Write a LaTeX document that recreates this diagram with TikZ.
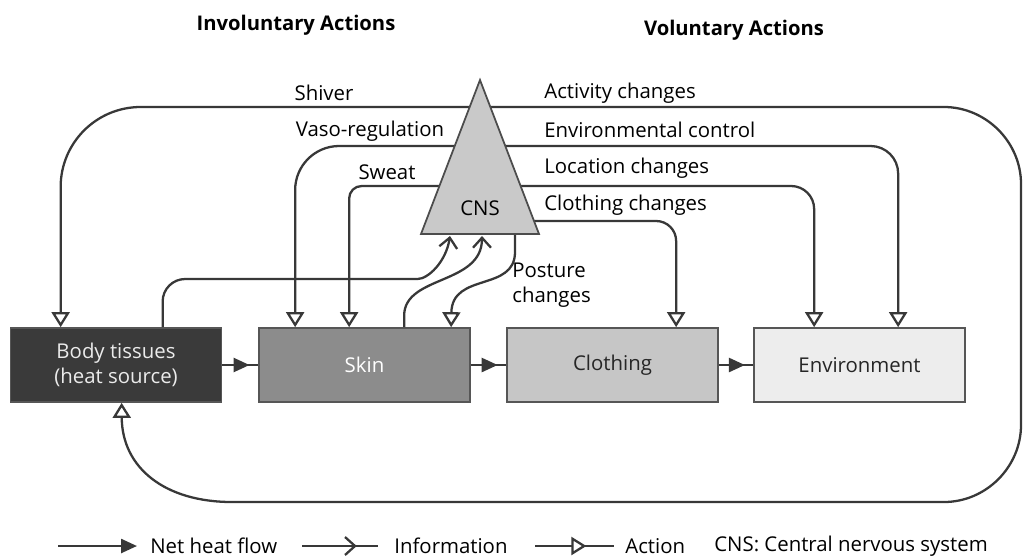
\documentclass[tikz,border=0pt]{standalone}
\usepackage{fontspec}
\setmainfont{Open Sans}
\usetikzlibrary{arrows.meta,calc,decorations.markings}
\definecolor{linegray}{HTML}{383838}
\definecolor{bodyfill}{HTML}{3A3A3A}
\definecolor{skinfill}{HTML}{8C8C8C}
\definecolor{clothfill}{HTML}{C6C6C6}
\definecolor{envfill}{HTML}{EDEDED}
\definecolor{cnsfill}{HTML}{C9C9C9}
\tikzset{
  box/.style={draw=linegray!85, line width=1pt, minimum width=4.22cm, minimum height=1.48cm,
    align=center, font=\fontsize{11.6}{14}\selectfont},
  action/.style={draw=linegray, line width=1.3pt, -{Triangle[fill=white, length=0.3cm, width=0.36cm]}},
  info/.style={draw=linegray, line width=1.3pt, -{Straight Barb[length=0.2cm, width=0.36cm]}},
  heat/.style={draw=linegray, line width=1.4pt, postaction={decorate},
    decoration={markings, mark=at position 0.76 with {\arrow{Triangle[length=0.32cm, width=0.28cm]}}}},
  lbl/.style={font=\fontsize{11.6}{14}\selectfont, inner sep=0pt},
  title/.style={font=\fontsize{11.5}{14}\selectfont\bfseries, inner sep=0pt},
}
\begin{document}
\begin{tikzpicture}[x=0.02cm, y=-0.02cm]
  \useasboundingbox (0,0) rectangle (1024,559);
  % boxes
  \node[box, fill=bodyfill, text=white!92!black] (body) at (116,365) {Body tissues\\(heat source)};
  \node[box, fill=skinfill, text=white] (skin) at (364.5,365) {Skin};
  \node[box, fill=clothfill, text=black!85] (cloth) at (612.5,365) {Clothing};
  \node[box, fill=envfill, text=black!85] (env) at (859.5,365) {Environment};
  \coordinate (apex) at (480,80);
  % heat flow
  \draw[heat] (body) -- (skin);
  \draw[heat] (skin) -- (cloth);
  \draw[heat] (cloth) -- (env);
  % involuntary actions
  \draw[action, rounded corners=1.6cm] ($(apex)+(0,27)$) -| ($(body.north west)+(51,0)$);
  \draw[action, rounded corners=0.88cm] ($(apex)+(0,66)$) -| ($(skin.north west)+(37,0)$);
  \draw[action, rounded corners=0.25cm] ($(apex)+(0,106)$) -| ($(skin.north west)+(91,0)$);
  % voluntary actions
  \draw[action] ($(apex)+(0,27)$) -- (944,107) .. controls (986,107) and (1021,142) .. (1021,184)
    -- (1021,425) .. controls (1021,467) and (986,502) .. (944,502) -- (232,502)
    .. controls (165,502) and (122,468) .. ($(body.south west)+(112,0)$);
  \draw[action, rounded corners=0.55cm] ($(apex)+(0,66)$) -| ($(env.north west)+(145,0)$);
  \draw[action, rounded corners=0.46cm] ($(apex)+(0,106)$) -| ($(env.north west)+(61,0)$);
  \draw[action, rounded corners=0.4cm] ($(apex)+(0,141)$) -| ($(cloth.north west)+(170,0)$);
  \draw[action] ($(apex)+(35,154)$) -- ++(0,18) .. controls (515,292) and (452,272) .. ($(skin.north west)+(193,0)$);
  % information
  \draw[info, rounded corners=0.45cm] ($(body.north west)+(153,0)$) |- (395,279)
    [sharp corners] .. controls (428,279) and (446,262) .. ($(apex)+(-30,156)$);
  \draw[info] ($(skin.north west)+(146,0)$) -- ++(0,-12) .. controls (405,275) and (482,285) .. ($(apex)+(2,156)$);
  % CNS
  \filldraw[fill=cnsfill, draw=linegray!90, line width=1pt] (apex) -- (539,234) -- (421,234) -- cycle;
  \node[lbl] (cns) at (480,208) {CNS};
  % labels
  \node[title] (invol) at (296,25) {Involuntary Actions};
  \node[title] (vol) at (734,30) {Voluntary Actions};
  \node[lbl] (shiver) at (324,93) {Shiver};
  \node[lbl] (vaso) at (370,131) {Vaso-regulation};
  \node[lbl] (sweat) at (387,172) {Sweat};
  \node[lbl, anchor=west] (activity) at (544,93) {Activity changes};
  \node[lbl, anchor=west] (envctrl) at (544,130) {Environmental control};
  \node[lbl, anchor=west] (location) at (544,168) {Location changes};
  \node[lbl, anchor=west] (clothchg) at (544,205) {Clothing changes};
  \node[lbl, anchor=north west, align=left] (posture) at (512,263) {Posture\\changes};
  % legend
  \coordinate (lh1) at (58,546);
  \coordinate (lh2) at (137,546);
  \coordinate (li1) at (302,546);
  \coordinate (li2) at (378,546);
  \coordinate (la1) at (535,546);
  \coordinate (la2) at (614,546);
  \draw[draw=linegray, line width=1.4pt, -{Triangle[length=0.32cm, width=0.28cm]}] (lh1) -- (lh2);
  \draw[draw=linegray, line width=1.3pt, postaction={decorate},
    decoration={markings, mark=at position 0.72 with {\arrow{Straight Barb[length=0.2cm, width=0.36cm]}}}] (li1) -- (li2);
  \draw[draw=linegray, line width=1.3pt, postaction={decorate},
    decoration={markings, mark=at position 0.65 with {\arrow{Triangle[fill=white, length=0.3cm, width=0.36cm]}}}] (la1) -- (la2);
  \node[lbl, anchor=west] (lheat) at (150,546) {Net heat flow};
  \node[lbl, anchor=west] (linfo) at (394,546) {Information};
  \node[lbl, anchor=west] (lact) at (625,546) {Action};
  \node[lbl, anchor=west] (lcns) at (714,546) {CNS: Central nervous system};
\end{tikzpicture}
\end{document}
